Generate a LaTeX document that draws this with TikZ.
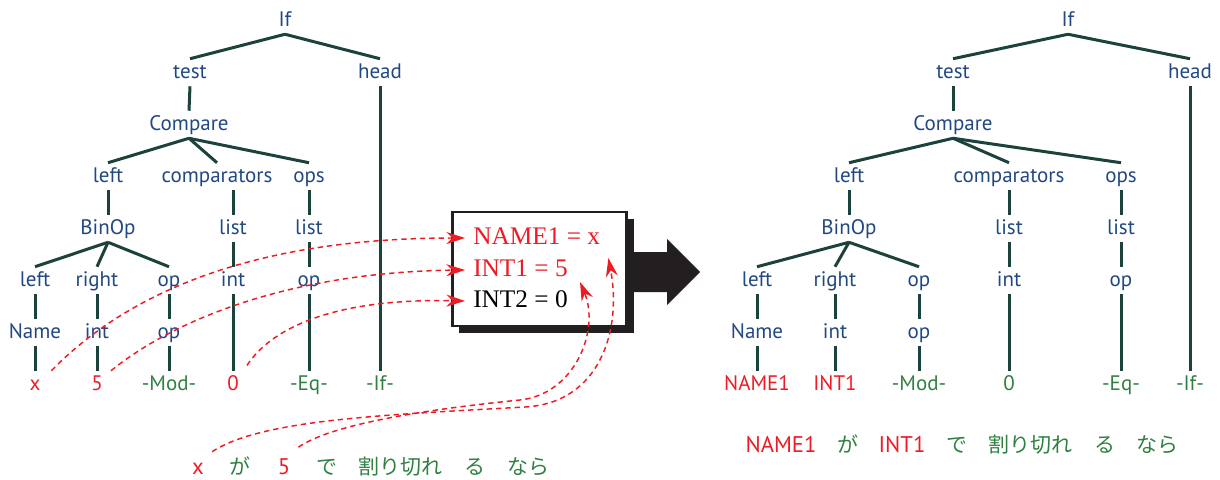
\documentclass[tikz,border=0pt]{standalone}
\usepackage{fontspec}
\setmainfont{PT Sans}
\newfontfamily\jpfont{Noto Sans CJK JP}
\newfontfamily\boxfont{Liberation Serif}
\usetikzlibrary{arrows.meta}

\definecolor{treeblue}{RGB}{33,72,130}
\definecolor{treeline}{RGB}{28,66,60}
\definecolor{leafred}{RGB}{237,28,36}
\definecolor{leafgreen}{RGB}{48,128,66}
\definecolor{shadowgray}{RGB}{35,31,32}

\tikzset{
  lbl/.style={anchor=base, inner xsep=1pt, inner ysep=3pt, text height=11.25pt, text depth=3pt,
    font=\fontsize{15.75}{18}\selectfont, text=treeblue},
  leafr/.style={lbl, text=leafred},
  leafg/.style={lbl, text=leafgreen},
  branch/.style={draw=treeline, line width=2.25pt},
  link/.style={draw=leafred, line width=1.1pt, dash pattern=on 4pt off 3pt,
    -{Stealth[length=14pt,width=9pt]}},
  boxtxt/.style={anchor=base west, inner sep=0pt, font=\boxfont\fontsize{19}{22}\selectfont},
  btxt/.style={anchor=base, inner sep=0pt, font=\fontsize{17}{20}\selectfont},
  bjp/.style={anchor=base, inner sep=0pt, font=\jpfont\fontsize{15.75}{20}\selectfont, text=leafgreen}
}

\begin{document}
\begin{tikzpicture}[x=0.75pt,y=-0.75pt]
\useasboundingbox (0,0) rectangle (1220,479);

% left tree: before renaming
\node[lbl] (lIf) at (285,26) {If};
\node[lbl] (lTest) at (190,78) {test};
\node[lbl] (lHead) at (380,78) {head};
\node[lbl] (lCmp) at (189,130) {Compare};
\node[lbl] (lLeft) at (108,182) {left};
\node[lbl] (lComps) at (217,182) {comparators};
\node[lbl] (lOps) at (309,182) {ops};
\node[lbl] (lBinOp) at (108,234) {BinOp};
\node[lbl] (lListA) at (233,234) {list};
\node[lbl] (lListB) at (309,234) {list};
\node[lbl] (lBLeft) at (35,286) {left};
\node[lbl] (lRight) at (97,286) {right};
\node[lbl] (lOp) at (169,286) {op};
\node[lbl] (lInt) at (233,286) {int};
\node[lbl] (lOpB) at (309,286) {op};
\node[lbl] (lName) at (35,338) {Name};
\node[lbl] (lIntB) at (97,338) {int};
\node[lbl] (lOpC) at (169,338) {op};
\node[leafr] (lX) at (35,390) {x};
\node[leafr] (lFive) at (97,390) {5};
\node[leafg] (lMod) at (169,390) {-Mod-};
\node[leafr] (lZero) at (233,390) {0};
\node[leafg] (lEq) at (309,390) {-Eq-};
\node[leafg] (lIfL) at (380,390) {-If-};

\foreach \a/\b in {lIf/lTest,lIf/lHead,lTest/lCmp,lCmp/lLeft,lCmp/lComps,lCmp/lOps,
  lLeft/lBinOp,lOps/lListB,lHead/lIfL,lBinOp/lBLeft,lBinOp/lRight,lBinOp/lOp,
  lListA/lInt,lInt/lZero,lListB/lOpB,lOpB/lEq,lBLeft/lName,lName/lX,
  lRight/lIntB,lIntB/lFive,lOp/lOpC,lOpC/lMod}
  \draw[branch] (\a.south) -- (\b.north);
\draw[branch] (lComps.south -| lListA) -- (lListA.north);

% right tree: after renaming
\node[lbl] (rIf) at (1068,26) {If};
\node[lbl] (rTest) at (953,78) {test};
\node[lbl] (rHead) at (1190,78) {head};
\node[lbl] (rCmp) at (953,130) {Compare};
\node[lbl] (rLeft) at (849,182) {left};
\node[lbl] (rComps) at (1009,182) {comparators};
\node[lbl] (rOps) at (1121,182) {ops};
\node[lbl] (rBinOp) at (849,234) {BinOp};
\node[lbl] (rListA) at (1009,234) {list};
\node[lbl] (rListB) at (1121,234) {list};
\node[lbl] (rBLeft) at (757,286) {left};
\node[lbl] (rRight) at (835,286) {right};
\node[lbl] (rOp) at (919,286) {op};
\node[lbl] (rInt) at (1009,286) {int};
\node[lbl] (rOpB) at (1121,286) {op};
\node[lbl] (rName) at (757,338) {Name};
\node[lbl] (rIntB) at (835,338) {int};
\node[lbl] (rOpC) at (919,338) {op};
\node[leafr] (rNameL) at (757,390) {NAME1};
\node[leafr] (rIntL) at (835,390) {INT1};
\node[leafg] (rMod) at (919,390) {-Mod-};
\node[leafg] (rZero) at (1009,390) {0};
\node[leafg] (rEq) at (1121,390) {-Eq-};
\node[leafg] (rIfL) at (1190,390) {-If-};

\foreach \a/\b in {rIf/rTest,rIf/rHead,rTest/rCmp,rCmp/rLeft,rCmp/rComps,rCmp/rOps,
  rLeft/rBinOp,rComps/rListA,rOps/rListB,rHead/rIfL,rBinOp/rBLeft,rBinOp/rRight,rBinOp/rOp,
  rListA/rInt,rInt/rZero,rListB/rOpB,rOpB/rEq,rBLeft/rName,rName/rNameL,
  rRight/rIntB,rIntB/rIntL,rOp/rOpC,rOpC/rMod}
  \draw[branch] (\a.south) -- (\b.north);

% table box with shadow and big arrow
\fill[shadowgray] (459,219) rectangle (634,333);
\fill[shadowgray] (634,252) -- (667,252) -- (667,239) -- (700,272) -- (667,305) -- (667,292) -- (634,292) -- cycle;
\node[draw=shadowgray, line width=2pt, fill=white, minimum width=130.5pt, minimum height=85.5pt, inner sep=0pt] (res) at (539.5,269) {};
\node[boxtxt, text=leafred] (tName) at (473,244) {NAME1 = x};
\node[boxtxt, text=leafred] (tInt) at (473,276) {INT1 = 5};
\node[boxtxt, text=black] (tZero) at (473,307) {INT2 = 0};

% bottom sentences
\node[btxt, text=leafred] (bX) at (198,474) {x};
\node[bjp] (bGa) at (240,474) {が};
\node[btxt, text=leafred] (bFive) at (284,474) {5};
\node[bjp] (bDe) at (327,474) {で};
\node[bjp] (bWari) at (400,474) {割り切れ};
\node[bjp] (bRu) at (475,474) {る};
\node[bjp] (bNara) at (528,474) {なら};

\node[btxt, text=leafred] (sName) at (781,452) {NAME1};
\node[bjp] (sGa) at (848,452) {が};
\node[btxt, text=leafred] (sInt) at (902,452) {INT1};
\node[bjp] (sDe) at (957,452) {で};
\node[bjp] (sWari) at (1030,452) {割り切れ};
\node[bjp] (sRu) at (1105,452) {る};
\node[bjp] (sNara) at (1157,452) {なら};

% dashed links
\draw[link] ([xshift=7pt]lX.north east) .. controls (150,270) and (300,238) .. ([shift={(-6pt,4.5pt)}]tName.base west);
\draw[link] ([xshift=5pt]lFive.north east) .. controls (180,315) and (300,272) .. ([shift={(-6pt,4.5pt)}]tInt.base west);
\draw[link] ([shift={(5pt,4pt)}]lZero.north east) .. controls (270,330) and (330,298) .. ([shift={(-6pt,4.5pt)}]tZero.base west);
\draw[link] ([shift={(6pt,8pt)}]bX.north east) .. controls (260,420) and (380,415) .. (525,407)
  .. controls (600,403) and (622,330) .. ([shift={(6pt,-10.5pt)}]tName.base east);
\draw[link] ([shift={(6pt,8pt)}]bFive.north east) .. controls (330,425) and (420,410) .. (520,400)
  .. controls (575,394) and (600,330) .. ([shift={(9pt,-4.5pt)}]tInt.base east);
\end{tikzpicture}
\end{document}
